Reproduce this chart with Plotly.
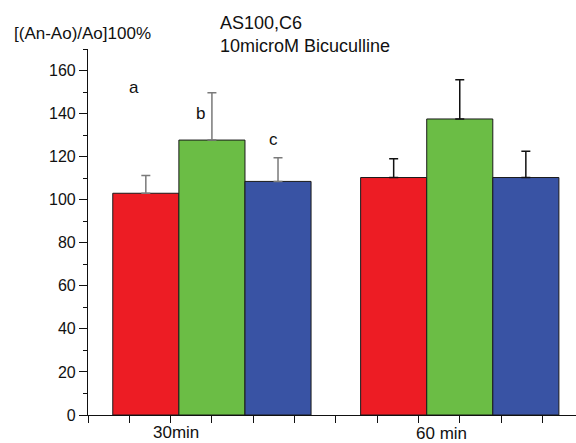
import plotly.graph_objects as go

groups = ["30min", "60 min"]
group_x = [1, 2]
series_names = ["a", "b", "c"]
colors = ["#ED1C24", "#6BBD45", "#3953A4"]
values = {
    "a": [103, 110.3],
    "b": [127.7, 137.5],
    "c": [108.5, 110.3],
}
errors = {
    "a": [8.3, 8.7],
    "b": [22.0, 18.2],
    "c": [11.0, 12.2],
}
err_colors = ["#7a7a7a", "#111111"]
label_pos = {"a": (0.685, 152), "b": (0.955, 140), "c": (1.248, 128)}
group_label_pos = [(0.855, -0.049), (1.925, -0.051)]

fig = go.Figure()
for gi, gx in enumerate(group_x):
    for si, s in enumerate(series_names):
        fig.add_trace(go.Bar(
            x=[gx], y=[values[s][gi]],
            offsetgroup=s,
            marker=dict(color=colors[si], line=dict(color="#1a1a1a", width=1)),
            error_y=dict(type="data", array=[errors[s][gi]], symmetric=False,
                         arrayminus=[0], color=err_colors[gi], thickness=1.5, width=4.5),
            showlegend=False,
        ))

for s in series_names:
    x, y = label_pos[s]
    fig.add_annotation(x=x, y=y, text=s, showarrow=False,
                       font=dict(size=17, color="#111"))

for gi, g in enumerate(groups):
    x, y = group_label_pos[gi]
    fig.add_annotation(x=x, y=y, xref="x", yref="paper", text=g, showarrow=False,
                       font=dict(size=17, color="#111"), yanchor="middle", borderpad=0)

fig.add_annotation(xref="paper", yref="paper", x=-0.156, y=1.041,
                   text="[(An-Ao)/Ao]100%", showarrow=False, xanchor="left",
                   yanchor="middle", font=dict(size=17, color="#111"))
fig.add_annotation(xref="paper", yref="paper", x=(218 - 88) / 488, y=1.071,
                   text="AS100,C6", showarrow=False,
                   xanchor="left", yanchor="middle",
                   font=dict(size=18, color="#111"))
fig.add_annotation(xref="paper", yref="paper", x=(218 - 88) / 488, y=1.008,
                   text="10microM Bicuculline", showarrow=False,
                   xanchor="left", yanchor="middle",
                   font=dict(size=18, color="#111"))

fig.update_layout(
    width=576, height=443,
    margin=dict(l=88, r=0, t=49, b=28),
    paper_bgcolor="white", plot_bgcolor="white",
    barmode="group", bargap=0.2, bargroupgap=0,
    font=dict(family="Liberation Sans, Arial, sans-serif", color="#111"),
)
fig.update_xaxes(
    range=[0.5, 2.469], showgrid=False, zeroline=False, automargin=False,
    showline=True, linecolor="#111", linewidth=1.2,
    tickmode="linear", tick0=0.5, dtick=1/6, ticks="outside", ticklen=7,
    tickcolor="#111", showticklabels=False,
)
fig.update_yaxes(
    range=[0, 170], showgrid=False, zeroline=False, automargin=False,
    showline=True, linecolor="#111", linewidth=1.2,
    tickmode="linear", tick0=0, dtick=20, ticks="outside", ticklen=8,
    tickcolor="#111", tickfont=dict(size=16, color="#111"),
    minor=dict(dtick=10, ticks="outside", ticklen=4, tickcolor="#111"),
)

fig.write_html(
    "out.html",
    config={"displayModeBar": False},
    post_script="document.body.style.margin='0';document.body.style.padding='0';document.body.style.overflow='hidden';",
)
